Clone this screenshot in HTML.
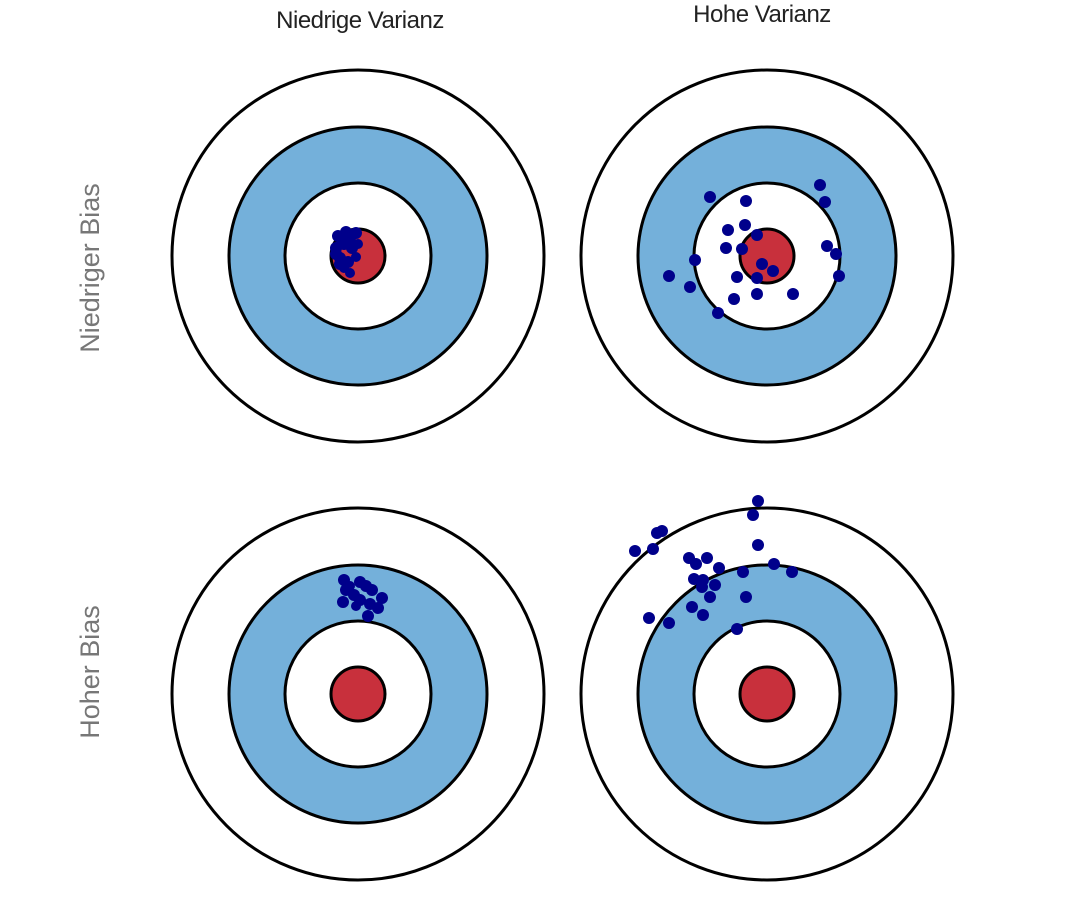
<!DOCTYPE html>
<html><head><meta charset="utf-8"><style>
html,body{margin:0;padding:0;background:#fff;width:1069px;height:900px;overflow:hidden}
svg{display:block}
</style></head><body>
<svg width="1069" height="900" viewBox="0 0 1069 900" xmlns="http://www.w3.org/2000/svg">
<defs>
<g id="t">
<circle r="186" fill="#fff" stroke="#000" stroke-width="3"/>
<circle r="129" fill="#74b0da" stroke="#000" stroke-width="3"/>
<circle r="73" fill="#fff" stroke="#000" stroke-width="3"/>
<circle r="27" fill="#c8303c" stroke="#000" stroke-width="3"/>
</g>
</defs>
<use href="#t" x="358" y="256"/>
<use href="#t" x="767" y="256"/>
<use href="#t" x="358" y="694"/>
<use href="#t" x="767" y="694"/>
<g font-family="Liberation Sans, sans-serif">
<text x="360" y="28" font-size="24" text-anchor="middle" fill="#222" letter-spacing="-0.5">Niedrige Varianz</text>
<text x="762" y="22" font-size="24" text-anchor="middle" fill="#222" letter-spacing="-0.5">Hohe Varianz</text>
<text transform="translate(99,268) rotate(-90)" font-size="27" text-anchor="middle" fill="#777">Niedriger Bias</text>
<text transform="translate(99,672) rotate(-90)" font-size="27" text-anchor="middle" fill="#777">Hoher Bias</text>
</g>
<g fill="#00008b">
<circle cx="338" cy="236" r="6"/><circle cx="346" cy="232" r="6"/><circle cx="356" cy="233" r="6"/>
<circle cx="336" cy="248" r="6"/><circle cx="344" cy="244" r="6"/><circle cx="352" cy="248" r="6"/>
<circle cx="340" cy="258" r="6"/><circle cx="348" cy="262" r="6"/><circle cx="356" cy="257" r="5"/>
<circle cx="344" cy="268" r="5"/><circle cx="350" cy="273" r="5"/><circle cx="336" cy="254" r="6"/>
<circle cx="342" cy="239" r="6"/><circle cx="358" cy="244" r="5"/><circle cx="340" cy="264" r="6"/><circle cx="350" cy="238" r="6"/>
<circle cx="710" cy="197" r="6"/><circle cx="746" cy="201" r="6"/><circle cx="820" cy="185" r="6"/><circle cx="825" cy="202" r="6"/>
<circle cx="728" cy="230" r="6"/><circle cx="745" cy="225" r="6"/><circle cx="757" cy="235" r="6"/><circle cx="726" cy="248" r="6"/>
<circle cx="742" cy="249" r="6"/><circle cx="695" cy="260" r="6"/><circle cx="827" cy="246" r="6"/><circle cx="836" cy="254" r="6"/>
<circle cx="762" cy="264" r="6"/><circle cx="773" cy="271" r="6"/><circle cx="669" cy="276" r="6"/><circle cx="839" cy="276" r="6"/>
<circle cx="737" cy="277" r="6"/><circle cx="757" cy="278" r="6"/><circle cx="690" cy="287" r="6"/><circle cx="757" cy="294" r="6"/>
<circle cx="793" cy="294" r="6"/><circle cx="734" cy="299" r="6"/><circle cx="718" cy="313" r="6"/>
<circle cx="344" cy="580" r="6"/><circle cx="346" cy="590" r="6"/><circle cx="343" cy="602" r="6"/><circle cx="354" cy="595" r="6"/>
<circle cx="360" cy="582" r="6"/><circle cx="366" cy="586" r="6"/><circle cx="372" cy="590" r="6"/><circle cx="360" cy="600" r="6"/>
<circle cx="370" cy="604" r="6"/><circle cx="382" cy="598" r="6"/><circle cx="378" cy="608" r="6"/><circle cx="368" cy="616" r="6"/>
<circle cx="356" cy="606" r="5"/><circle cx="350" cy="586" r="5"/>
<circle cx="758" cy="501" r="6"/><circle cx="753" cy="515" r="6"/><circle cx="657" cy="533" r="6"/><circle cx="662" cy="531" r="6"/>
<circle cx="635" cy="551" r="6"/><circle cx="653" cy="549" r="6"/><circle cx="758" cy="545" r="6"/><circle cx="689" cy="558" r="6"/>
<circle cx="696" cy="564" r="6"/><circle cx="707" cy="558" r="6"/><circle cx="719" cy="568" r="6"/><circle cx="743" cy="572" r="6"/>
<circle cx="774" cy="564" r="6"/><circle cx="792" cy="572" r="6"/><circle cx="694" cy="579" r="6"/><circle cx="703" cy="580" r="6"/>
<circle cx="702" cy="587" r="6"/><circle cx="715" cy="585" r="6"/><circle cx="710" cy="597" r="6"/><circle cx="746" cy="597" r="6"/>
<circle cx="692" cy="607" r="6"/><circle cx="703" cy="615" r="6"/><circle cx="649" cy="618" r="6"/><circle cx="669" cy="623" r="6"/>
<circle cx="737" cy="629" r="6"/>
</g>
</svg>
</body></html>
